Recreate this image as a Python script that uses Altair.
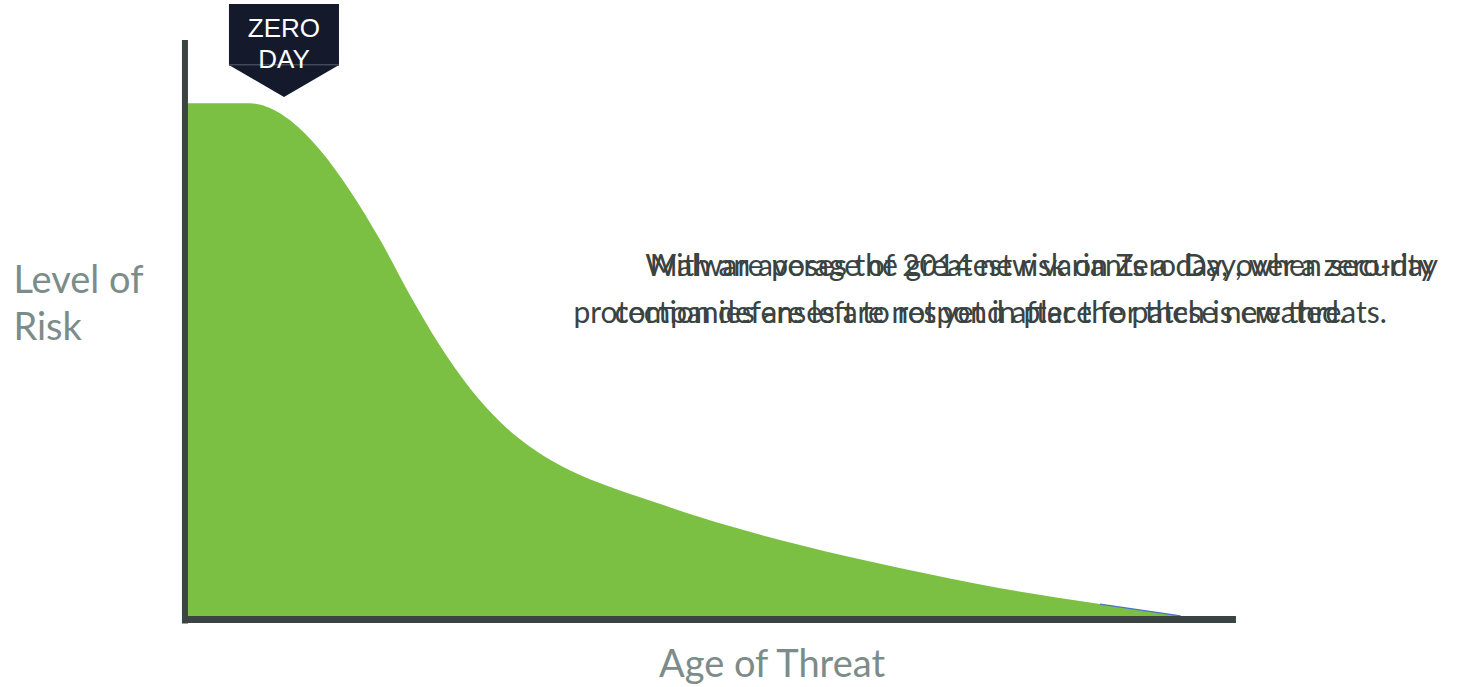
import altair as alt
import pandas as pd

# ---- data ----
curve_x = [0.5, 6.4, 8.3, 10.2, 13.0, 15.8, 18.7, 21.5, 24.3, 27.2, 30.0, 32.8, 35.7, 39.4, 44.2, 48.9, 58.3, 67.7, 77.2, 86.6, 94.2]
curve_y = [87.6, 87.6, 86.8, 84.7, 79.7, 72.9, 64.4, 55.1, 46.6, 39.2, 33.6, 29.4, 26.2, 23.2, 20.2, 17.4, 12.7, 8.8, 5.4, 2.7, 0.7]

line1_texts = ["Malware poses the greatest risk on Zero Day, when security",
               "With an average of 2014 new variants a day, over a zero-day"]
line2_texts = ["protection defenses are not yet in place for these new threats.",
               "companies are left to respond after the patch is created."]

badge_lines = ["ZERO", "DAY"]
y_title_lines = ["Level of", "Risk"]
x_title = "Age of Threat"

X = alt.Scale(domain=[0, 100], nice=False, zero=False)
Y = alt.Scale(domain=[0, 100], nice=False, zero=False)

curve = pd.DataFrame({"x": curve_x, "y": curve_y, "y0": [0] * len(curve_x)})

area = alt.Chart(curve).mark_area(color="#7bc043", interpolate="monotone").encode(
    x=alt.X("x:Q", scale=X, axis=None),
    y=alt.Y("y:Q", scale=Y, axis=None),
    y2="y0:Q",
)

edge = alt.Chart(curve.iloc[-2:]).mark_line(color="#4a72c8", strokeWidth=1.2, interpolate="monotone").encode(
    x=alt.X("x:Q", scale=X), y=alt.Y("y:Q", scale=Y)
)

vbar = alt.Chart(pd.DataFrame({"x": [0.28], "y": [-0.6], "y2": [98.3]})).mark_rule(
    color="#3b4442", strokeWidth=6).encode(
    x=alt.X("x:Q", scale=X), y=alt.Y("y:Q", scale=Y), y2="y2:Q")

hbar = alt.Chart(pd.DataFrame({"x": [0.0], "x2": [99.43], "y": [0.08]})).mark_rule(
    color="#3b4442", strokeWidth=7).encode(
    x=alt.X("x:Q", scale=X), x2="x2:Q", y=alt.Y("y:Q", scale=Y))

# badge
badge_rect = alt.Chart(pd.DataFrame({"x": [4.43], "x2": [14.81], "y": [104.4], "y2": [94.0]})).mark_rect(
    color="#141a2c").encode(x=alt.X("x:Q", scale=X), x2="x2:Q", y=alt.Y("y:Q", scale=Y), y2="y2:Q")
badge_tri = alt.Chart(pd.DataFrame({"x": [4.43, 9.62, 14.81], "y": [94.3, 94.3, 94.3], "y2": [94.07, 88.64, 94.07]})).mark_area(
    color="#141a2c").encode(x=alt.X("x:Q", scale=X), y=alt.Y("y:Q", scale=Y), y2="y2:Q")
badge_sep = alt.Chart(pd.DataFrame({"x": [4.43], "x2": [14.81], "y": [94.1]})).mark_rule(
    color="#5a6070", strokeWidth=1).encode(x=alt.X("x:Q", scale=X), x2="x2:Q", y=alt.Y("y:Q", scale=Y))
badge_text = alt.Chart(pd.DataFrame({"t": badge_lines, "x": [9.62, 9.62], "y": [98.8, 93.6]})).mark_text(
    color="white", font="Liberation Sans", fontSize=26, align="center", baseline="alphabetic").encode(
    x=alt.X("x:Q", scale=X), y=alt.Y("y:Q", scale=Y), text="t:N")

# titles
ytitle = alt.Chart(pd.DataFrame({"t": y_title_lines, "x": [-15.9, -15.9], "y": [55.4, 47.5]})).mark_text(
    color="#7b8c89", font="Lato", fontSize=38, align="left", baseline="alphabetic").encode(
    x=alt.X("x:Q", scale=X), y=alt.Y("y:Q", scale=Y), text="t:N")
xtitle = alt.Chart(pd.DataFrame({"t": [x_title], "x": [55.66], "y": [-9.66]})).mark_text(
    color="#7b8c89", font="Lato", fontSize=38, align="center", baseline="alphabetic").encode(
    x=alt.X("x:Q", scale=X), y=alt.Y("y:Q", scale=Y), text="t:N")

# overlapping annotation texts
ann = pd.DataFrame({
    "t": line1_texts + line2_texts,
    "x": [81.1, 81.1, 75.3, 75.3],
    "y": [58.3, 58.3, 50.3, 50.3],
})
annot = alt.Chart(ann).mark_text(
    color="#3a4341", font="Lato", fontSize=30, align="center", baseline="alphabetic").encode(
    x=alt.X("x:Q", scale=X), y=alt.Y("y:Q", scale=Y), text="t:N")

chart = alt.layer(area, edge, vbar, hbar, badge_rect, badge_tri, badge_sep, badge_text, ytitle, xtitle, annot).properties(
    width=1060, height=590,
    padding={"left": 182, "top": 30, "right": 218, "bottom": 67},
    autosize="none",
).configure_view(stroke=None)

chart.save("out.html", embed_options={"renderer": "svg", "actions": False})
